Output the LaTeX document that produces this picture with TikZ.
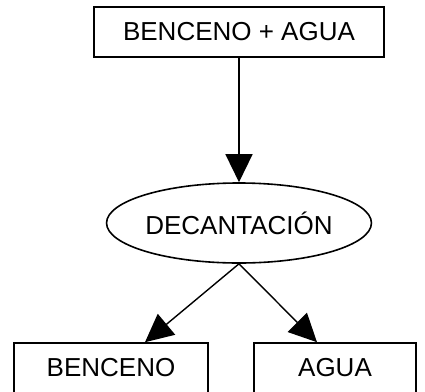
\documentclass[tikz,border=0pt]{standalone}
\usepackage{fontspec}
\setmainfont{Liberation Sans}
\usetikzlibrary{shapes.geometric,arrows.meta}

\begin{document}
\begin{tikzpicture}[x=1pt,y=-1pt,
  every node/.style={inner sep=0pt,font=\fontsize{26}{30}\selectfont},
  caja/.style={draw,line width=1.6pt,minimum height=50pt},
  elipse/.style={draw,ellipse,line width=1.6pt,minimum width=240pt,minimum height=80pt},
  flecha/.style={line width=1.4pt,-{Triangle[length=28pt,width=27pt]}}]
\useasboundingbox (0,0) rectangle (425,391);
\node[caja,minimum width=290pt] (mezcla) at (239,32) {BENCENO + AGUA};
\node[elipse] (decant) at (239,223) {DECANTACIÓN};
\node[caja,minimum width=194pt] (benceno) at (111,368) {BENCENO};
\node[caja,minimum width=162pt] (agua) at (335,368) {AGUA};
\draw[flecha] (mezcla.south) -- (decant.north);
\draw[flecha] (decant.south) -- ([xshift=34pt]benceno.north);
\draw[flecha] (decant.south) -- ([xshift=-18pt]agua.north);
\end{tikzpicture}
\end{document}
